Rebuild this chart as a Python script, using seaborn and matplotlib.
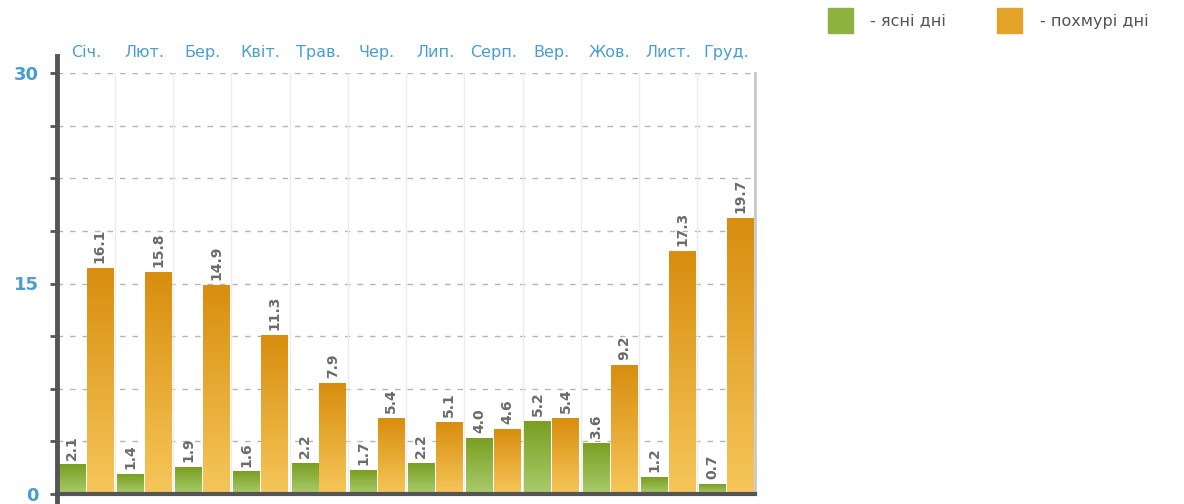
import matplotlib
matplotlib.use("Agg")
import matplotlib.pyplot as plt
import matplotlib.colors as mcolors
import numpy as np
import pandas as pd
import seaborn as sns

months = ["Січ.", "Лют.", "Бер.", "Квіт.", "Трав.", "Чер.",
          "Лип.", "Серп.", "Вер.", "Жов.", "Лист.", "Груд."]
clear_days = [2.1, 1.4, 1.9, 1.6, 2.2, 1.7, 2.2, 4.0, 5.2, 3.6, 1.2, 0.7]
cloudy_days = [16.1, 15.8, 14.9, 11.3, 7.9, 5.4, 5.1, 4.6, 5.4, 9.2, 17.3, 19.7]
series_names = ["- ясні дні", "- похмурі дні"]

sns.set_style("white")
plt.rcParams["font.family"] = ["DejaVu Sans"]

df = pd.DataFrame({
    "month": months * 2,
    "days": clear_days + cloudy_days,
    "kind": [series_names[0]] * 12 + [series_names[1]] * 12,
})

GREEN = "#8db33e"
ORANGE = "#e3a228"
grad = {
    GREEN: ("#7a9f22", "#a9cb6c"),
    ORANGE: ("#d88e0e", "#f6c65a"),
}

fig = plt.figure(figsize=(11.84, 5.04), dpi=100)
ax = fig.add_axes([0.048, 0.02, 0.59, 0.835])

sns.barplot(data=df, x="month", y="days", hue="kind", order=months,
            palette=[GREEN, ORANGE], width=0.96, gap=0.05, legend=False,
            edgecolor="none", ax=ax)

ax.set_xlim(-0.5, 11.5)
ax.set_ylim(0, 30)

# gradient fill on each bar
for patch, col in zip(ax.patches, [GREEN] * 12 + [ORANGE] * 12):
    x0, y0 = patch.get_x(), patch.get_y()
    w, h = patch.get_width(), patch.get_height()
    top, bot = grad[col]
    cmap = mcolors.LinearSegmentedColormap.from_list("g", [top, bot])
    img = ax.imshow(np.linspace(0, 1, 100).reshape(-1, 1), cmap=cmap,
                    aspect="auto", extent=[x0, x0 + w, y0, y0 + h],
                    origin="upper", zorder=patch.get_zorder() + 0.1)
    img.set_clip_path(patch)
    ax.text(x0 + w / 2, y0 + h + 0.35, f"{h:.1f}", rotation=90,
            ha="center", va="bottom", fontsize=10, fontweight="bold",
            color="#6b6b6b", zorder=5)
ax.set_xlim(-0.5, 11.5)
ax.set_ylim(0, 30)

# grid
for y in np.arange(3.75, 30.01, 3.75):
    ax.axhline(y, color="#b5b5b5", lw=1, ls=(0, (4, 5)), zorder=0)
for x in np.arange(0.5, 11.5, 1):
    ax.axvline(x, color="#ececec", lw=1, zorder=0)

ax.set_xlabel("")
ax.set_ylabel("")
ax.set_xticks([])
ax.set_yticks([0, 15, 30])
ax.set_yticklabels(["0", "15", "30"], color="#4a9dcf", fontweight="bold",
                   fontsize=13)
ax.set_yticks(np.arange(0, 30.01, 3.75), minor=True)
ax.tick_params(axis="y", which="both", left=True, length=5, width=2,
               color="#555555", pad=8)

for side in ["top"]:
    ax.spines[side].set_visible(False)
ax.spines["left"].set_color("#555555")
ax.spines["left"].set_linewidth(3.5)
ax.spines["bottom"].set_color("#555555")
ax.spines["bottom"].set_linewidth(3)
ax.spines["right"].set_color("#c8c8c8")
ax.spines["right"].set_linewidth(2)
ax.spines["right"].set_bounds(0, 30)
ax.spines["left"].set_bounds(-0.6, 31.2)

for i, m in enumerate(months):
    ax.text(i, 1.03, m, transform=ax.get_xaxis_transform(), ha="center",
            va="bottom", fontsize=11.5, color="#4a9dcf")

# legend at the top right
fig.patches.append(plt.Rectangle((828 / 1184, 1 - 33 / 504), 25 / 1184, 25 / 504,
                                 transform=fig.transFigure, color=GREEN))
fig.text(870 / 1184, 1 - 21 / 504, series_names[0], ha="left", va="center",
         fontsize=11.5, color="#555555")
fig.patches.append(plt.Rectangle((997 / 1184, 1 - 33 / 504), 25 / 1184, 25 / 504,
                                 transform=fig.transFigure, color=ORANGE))
fig.text(1040 / 1184, 1 - 21 / 504, series_names[1], ha="left", va="center",
         fontsize=11.5, color="#555555")

fig.savefig("out.png", dpi=100)
